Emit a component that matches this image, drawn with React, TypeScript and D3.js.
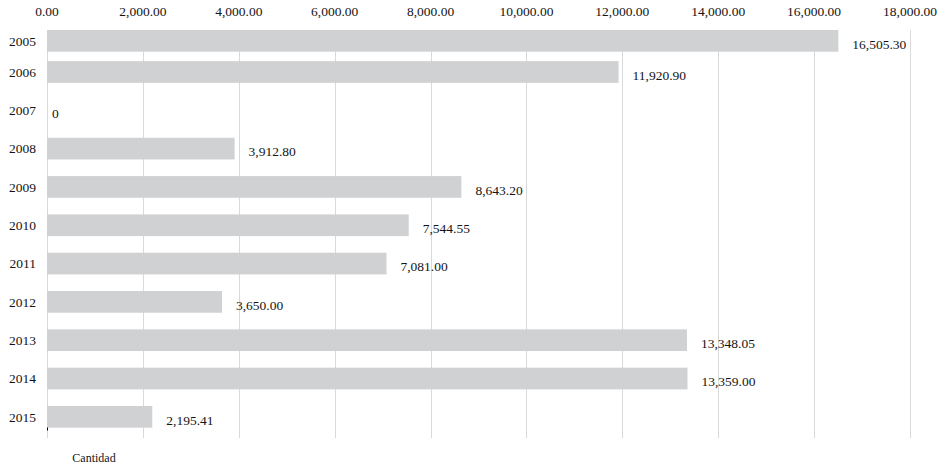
import React from 'react';
import * as d3 from 'd3';

const years = ['2005', '2006', '2007', '2008', '2009', '2010', '2011', '2012', '2013', '2014', '2015'];
const values = [16505.3, 11920.9, 0, 3912.8, 8643.2, 7544.55, 7081.0, 3650.0, 13348.05, 13359.0, 2195.41];
const tickValues = [0, 2000, 4000, 6000, 8000, 10000, 12000, 14000, 16000, 18000];
const axisTitle = 'Cantidad';

const W = 940;
const H = 465;
const plotTop = 30;
const plotBottom = 438;
const FONT = '"Liberation Serif", "Times New Roman", serif';
const TEXT = '#141414';

export default function App() {
  const x = d3.scaleLinear().domain([0, 18000]).range([47, 910]);
  const y = d3
    .scaleBand<string>()
    .domain(years)
    .range([14.5, 436])
    .paddingInner(0.434)
    .paddingOuter(0.217);
  const fmt = d3.format(',.2f');
  const bw = y.bandwidth();

  return (
    <svg
      width={W}
      height={H}
      style={{ position: 'absolute', left: 0, top: 0, background: '#fff' }}
      fontFamily={FONT}
    >
      {tickValues.map((t) => (
        <line
          key={'g' + t}
          x1={Math.round(x(t)) + 0.5}
          x2={Math.round(x(t)) + 0.5}
          y1={plotTop}
          y2={plotBottom}
          stroke="#d9d9d9"
          strokeWidth={1}
        />
      ))}
      {tickValues.map((t) => (
        <text key={'t' + t} x={x(t)} y={16} textAnchor="middle" fontSize={13.5} fill={TEXT}>
          {fmt(t)}
        </text>
      ))}
      {years.map((yr, i) => {
        const by = Math.max(y(yr) as number, plotTop);
        return (
          <g key={yr}>
            <rect x={x(0)} y={by} width={x(values[i]) - x(0)} height={bw} fill="#d0d1d3" />
            <text x={36} y={by + bw / 2} dy="0.35em" textAnchor="end" fontSize={13.5} fill={TEXT}>
              {yr}
            </text>
            <text
              x={x(values[i]) + (values[i] === 0 ? 5 : 14)}
              y={by + bw / 2 + 3}
              dy="0.35em"
              textAnchor="start"
              fontSize={13.5}
              fill={TEXT}
            >
              {values[i] === 0 ? '0' : fmt(values[i])}
            </text>
          </g>
        );
      })}
      <line x1={x(0) + 0.5} x2={x(0) + 0.5} y1={427.5} y2={430.5} stroke="#000" strokeWidth={1} />
      <text x={94} y={458} dy="0.35em" textAnchor="middle" fontSize={12} fill={TEXT}>
        {axisTitle}
      </text>
    </svg>
  );
}
